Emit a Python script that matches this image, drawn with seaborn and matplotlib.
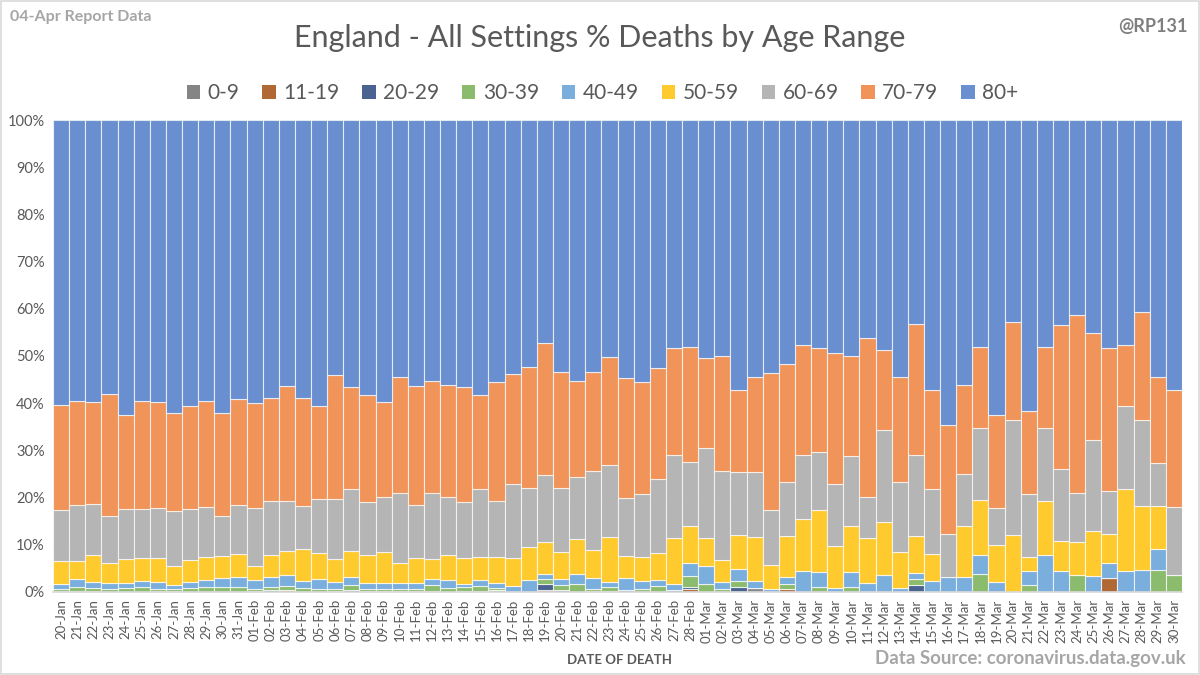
import matplotlib
matplotlib.use("Agg")
import matplotlib.pyplot as plt
from matplotlib.patches import Patch, Rectangle
import numpy as np
import pandas as pd
import seaborn as sns

# ── Data (% of deaths per day) ─────────────────────────────────────────────────
dates = (
    [f"{d}-Jan" for d in range(20, 32)]
    + [f"{d:02d}-Feb" for d in range(1, 29)]
    + [f"{d:02d}-Mar" for d in range(1, 31)]
)

age_groups = ["0-9", "11-19", "20-29", "30-39", "40-49",
              "50-59", "60-69", "70-79", "80+"]

age_0_9 = [0.3, 0.2, 0.2, 0.0, 0.1, 0.1, 0.3, 0.3, 0.1, 0.1, 0.1, 0.1,
           0.3, 0.0, 0.0, 0.1, 0.1, 0.3, 0.0, 0.3, 0.3, 0.3, 0.3, 0.2,
           0.1, 0.2, 0.3, 0.4, 0.0, 0.0, 0.0, 0.0, 0.0, 0.3, 0.2, 0.0,
           0.0, 0.1, 0.0, 0.1, 0.0, 0.0, 0.0, 0.8, 0.0, 0.0, 0.0, 0.0,
           0.0, 0.0, 0.0, 0.0, 0.0, 0.0, 0.0, 0.0, 0.0, 0.0, 0.0, 0.0,
           0.0, 0.0, 0.0, 0.0, 0.0, 0.0, 0.0, 0.0, 0.0, 0.0]
age_11_19 = [0.0, 0.0, 0.0, 0.0, 0.0, 0.0, 0.0, 0.0, 0.0, 0.0, 0.0, 0.0,
             0.0, 0.0, 0.5, 0.0, 0.0, 0.0, 0.0, 0.0, 0.0, 0.0, 0.0, 0.0,
             0.0, 0.0, 0.0, 0.0, 0.0, 0.0, 0.5, 0.0, 0.0, 0.0, 0.0, 0.0,
             0.0, 0.0, 0.0, 0.5, 0.0, 0.0, 0.0, 0.0, 0.0, 0.7, 0.0, 0.0,
             0.0, 0.0, 0.0, 0.0, 0.0, 0.0, 0.0, 0.0, 0.0, 0.0, 0.0, 0.0,
             0.0, 0.0, 0.0, 0.0, 0.0, 3.0, 0.0, 0.0, 0.0, 0.0]
age_20_29 = [0.0, 0.0, 0.0, 0.0, 0.0, 0.0, 0.0, 0.0, 0.0, 0.0, 0.0, 0.0,
             0.0, 0.4, 0.0, 0.0, 0.0, 0.0, 0.4, 0.0, 0.0, 0.0, 0.0, 0.0,
             0.0, 0.0, 0.0, 0.0, 0.0, 0.0, 1.2, 0.4, 0.0, 0.0, 0.0, 0.5,
             0.0, 0.0, 0.5, 0.5, 0.0, 0.0, 1.0, 0.0, 0.0, 0.0, 0.0, 0.0,
             0.0, 0.0, 0.0, 0.0, 0.0, 1.4, 0.0, 0.0, 0.0, 0.0, 0.0, 0.0,
             0.0, 0.0, 0.0, 0.0, 0.0, 0.0, 0.0, 0.0, 0.0, 0.0]
age_30_39 = [0.4, 0.8, 0.6, 0.6, 0.8, 1.0, 0.4, 0.3, 0.8, 0.9, 0.9, 0.9,
             0.4, 0.7, 0.7, 0.7, 0.6, 0.4, 1.1, 0.3, 0.3, 0.3, 0.3, 1.2,
             0.7, 0.8, 1.0, 0.4, 0.0, 0.0, 1.0, 1.0, 1.6, 0.4, 0.9, 0.0,
             0.6, 1.1, 0.0, 2.2, 1.7, 0.7, 1.4, 0.0, 0.0, 1.0, 0.0, 1.0,
             0.0, 1.0, 0.0, 0.0, 0.0, 1.3, 0.0, 0.0, 0.0, 3.8, 0.0, 0.0,
             1.5, 0.0, 0.0, 3.5, 0.0, 0.0, 0.0, 0.0, 4.6, 3.5]
age_40_49 = [0.9, 1.7, 1.4, 1.3, 1.0, 1.2, 1.5, 0.9, 1.3, 1.5, 1.9, 2.2,
             1.9, 2.1, 2.3, 1.5, 2.0, 1.5, 1.6, 1.3, 1.3, 1.3, 1.4, 1.4,
             1.8, 0.6, 1.2, 1.2, 1.3, 2.6, 1.2, 1.4, 2.3, 2.2, 1.0, 2.5,
             1.7, 1.3, 1.2, 2.9, 3.7, 1.4, 2.4, 1.5, 0.6, 1.5, 4.5, 3.2,
             0.8, 3.2, 1.8, 3.7, 0.8, 1.4, 2.3, 3.2, 3.1, 4.0, 2.1, 0.0,
             2.9, 7.8, 4.4, 0.0, 3.3, 3.1, 4.4, 4.6, 4.6, 0.0]
age_50_59 = [5.0, 3.9, 5.6, 4.2, 5.0, 5.0, 4.9, 4.1, 4.6, 4.9, 4.7, 4.9,
             2.8, 4.6, 5.2, 6.7, 5.5, 4.8, 5.6, 5.9, 6.5, 4.2, 5.3, 4.2,
             5.2, 5.7, 5.0, 5.4, 5.8, 6.9, 6.6, 5.6, 7.3, 5.9, 9.5, 4.6,
             5.1, 5.8, 9.7, 7.7, 6.0, 4.7, 7.2, 9.4, 5.2, 8.7, 10.9, 13.1,
             8.9, 9.7, 9.7, 11.1, 7.6, 7.8, 5.8, 0.0, 10.9, 11.6, 7.8, 12.1,
             3.0, 11.5, 6.5, 7.0, 9.7, 6.2, 17.4, 13.7, 9.1, 0.0]
age_60_69 = [10.7, 11.8, 10.8, 9.9, 10.6, 10.2, 10.6, 11.6, 10.7, 10.5, 8.4, 10.3,
             12.4, 11.5, 10.5, 9.2, 11.5, 12.7, 13.1, 11.3, 11.7, 14.8, 11.2, 14.0,
             12.3, 11.8, 14.3, 11.9, 15.8, 12.6, 14.2, 13.6, 13.2, 16.8, 15.2, 12.4,
             13.3, 15.7, 17.6, 13.7, 19.0, 18.8, 13.4, 13.7, 11.6, 11.5, 13.6, 12.4,
             13.1, 15.0, 8.6, 19.5, 14.8, 17.1, 13.8, 9.0, 11.1, 15.3, 7.8, 24.3,
             13.4, 15.4, 15.2, 10.5, 19.3, 9.1, 17.5, 18.1, 9.1, 14.4]
age_70_79 = [22.3, 22.0, 21.6, 25.9, 20.0, 23.0, 22.6, 20.8, 21.8, 22.6, 22.0, 22.4,
             22.3, 21.9, 24.4, 22.8, 19.7, 26.2, 21.6, 22.6, 20.2, 24.7, 25.1, 23.8,
             23.8, 24.4, 20.0, 25.1, 23.3, 25.6, 28.1, 24.6, 20.4, 21.0, 23.0, 25.3,
             23.7, 23.5, 22.7, 24.3, 19.2, 24.3, 17.5, 20.1, 28.9, 25.0, 23.4, 22.0,
             27.8, 21.2, 33.7, 17.0, 22.3, 27.8, 20.8, 23.1, 18.7, 17.3, 19.7, 20.7,
             17.5, 17.3, 30.5, 37.7, 22.6, 30.2, 13.0, 22.9, 18.2, 25.0]
age_80_plus = [60.4, 59.6, 59.8, 58.1, 62.5, 59.5, 59.7, 62.0, 60.7, 59.5, 62.0, 59.2,
               59.9, 58.8, 56.4, 59.0, 60.6, 54.1, 56.6, 58.3, 59.7, 54.4, 56.4, 55.2,
               56.1, 56.5, 58.2, 55.6, 53.8, 52.3, 47.2, 53.4, 55.2, 53.4, 50.2, 54.7,
               55.6, 52.5, 48.3, 48.2, 50.4, 50.1, 57.1, 54.5, 53.7, 51.6, 47.6, 48.3,
               49.4, 49.9, 46.2, 48.7, 54.5, 43.2, 57.3, 64.7, 56.1, 48.0, 62.6, 42.9,
               61.7, 48.0, 43.4, 41.3, 45.1, 48.4, 47.7, 40.7, 54.4, 57.1]

series = [age_0_9, age_11_19, age_20_29, age_30_39, age_40_49,
          age_50_59, age_60_69, age_70_79, age_80_plus]

# Excel palette as it shows on the reference (already blended, so alpha=1)
colours = {
    "0-9":   "#858585",
    "11-19": "#B06835",
    "20-29": "#4B6390",
    "30-39": "#8BBB6C",
    "40-49": "#7AAEDD",
    "50-59": "#FFCA2E",
    "60-69": "#B5B5B5",
    "70-79": "#F0945A",
    "80+":   "#6A8FD0",
}

TEXT_GREY  = "#595959"
LIGHT_GREY = "#A6A6A6"

# ── Long table for seaborn ─────────────────────────────────────────────────────
rows = []
for grp, vals in zip(age_groups, series):
    for i, v in enumerate(vals):
        rows.append({"day": i, "age": grp, "pct": v})
df = pd.DataFrame(rows)

sns.set_theme(style="white")
plt.rcParams["font.family"] = ["Lato", "DejaVu Sans"]

fig = plt.figure(figsize=(12, 6.75), dpi=100)
ax = fig.add_axes([0.0442, 0.123, 0.9408, 0.6992])

# hue levels are stacked bottom-up from the last one, so reverse the order
sns.histplot(
    data=df, x="day", weights="pct", hue="age",
    hue_order=age_groups[::-1], palette=colours,
    multiple="stack", discrete=True, shrink=1.0,
    stat="count", alpha=1.0, element="bars",
    edgecolor=(1, 1, 1, 0.7), linewidth=0.8,
    legend=False, ax=ax,
)

# ── Axes styling ───────────────────────────────────────────────────────────────
n = len(dates)
ax.set_xlim(-0.5, n - 0.5)
ax.set_ylim(0, 100)
ax.set_yticks(np.arange(0, 101, 10))
ax.set_yticklabels([f"{t}%" for t in range(0, 101, 10)], fontsize=10.5, color=TEXT_GREY)
ax.set_xticks(np.arange(n))
ax.set_xticklabels(dates, rotation=90, fontsize=9.5, color=TEXT_GREY)
ax.set_xticks(np.arange(n + 1) - 0.5, minor=True)
ax.tick_params(axis="x", which="major", length=0, pad=5)
ax.tick_params(axis="x", which="minor", length=5, color="#D9D9D9", width=0.8)
ax.tick_params(axis="y", length=0, pad=6)
ax.set_xlabel("")
ax.set_ylabel("")
ax.yaxis.grid(True, color="#D9D9D9", linewidth=0.8)
ax.set_axisbelow(True)
for side in ["left", "right", "top"]:
    ax.spines[side].set_visible(False)
ax.spines["bottom"].set_color("#D9D9D9")

# ── Titles and captions ────────────────────────────────────────────────────────
fig.text(0.5, 0.944, "England - All Settings % Deaths by Age Range",
         ha="center", va="center", fontsize=22, color=TEXT_GREY)
fig.text(0.008, 0.975, "04-Apr Report Data", ha="left", va="center",
         fontsize=11.5, fontweight="bold", color=LIGHT_GREY)
fig.text(0.99, 0.96, "@RP131", ha="right", va="center",
         fontsize=13, fontweight="bold", color="#7F7F7F")
fig.text(0.516, 0.022, "DATE OF DEATH", ha="center", va="center",
         fontsize=9.5, fontweight="bold", color=TEXT_GREY)
fig.text(0.988, 0.025, "Data Source: coronavirus.data.gov.uk", ha="right",
         va="center", fontsize=13.5, fontweight="bold", color=LIGHT_GREY)

handles = [Patch(facecolor=colours[g], edgecolor="none", label=g) for g in age_groups]
fig.legend(handles=handles, loc="center", bbox_to_anchor=(0.502, 0.862), ncol=9,
           frameon=False, fontsize=15, handlelength=0.65, handleheight=0.65,
           handletextpad=0.35, columnspacing=1.1, labelcolor=TEXT_GREY)

# chart area border
fig.patches.append(Rectangle((0.001, 0.001), 0.998, 0.997, transform=fig.transFigure,
                             fill=False, edgecolor="#D9D9D9", linewidth=1.2))

fig.savefig("out.png", dpi=100)
